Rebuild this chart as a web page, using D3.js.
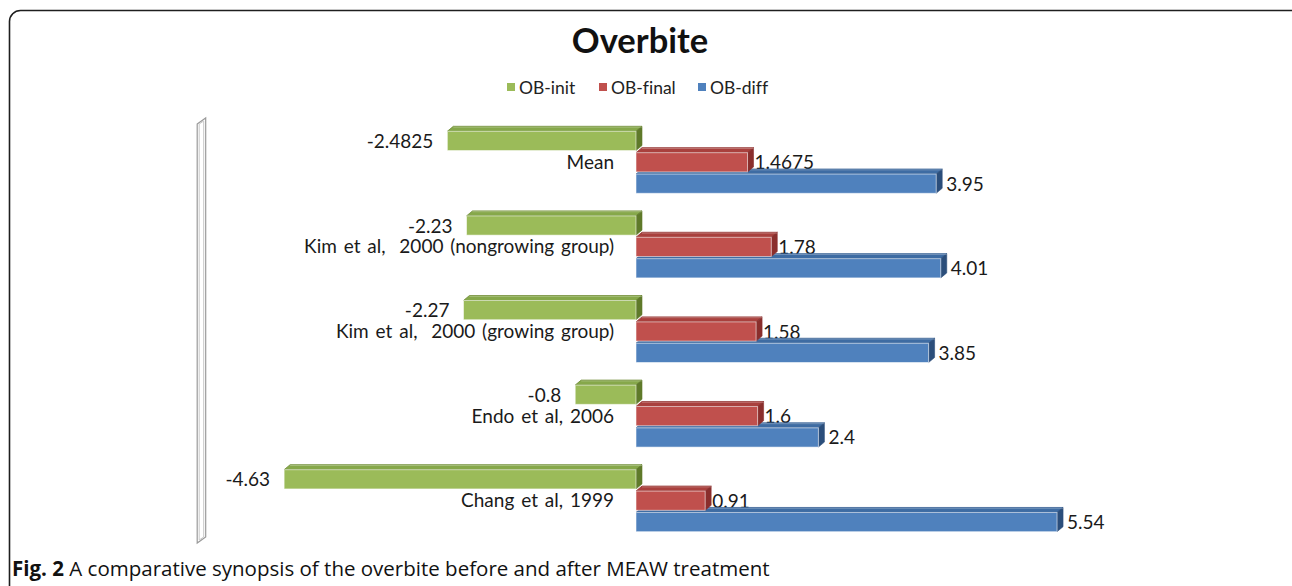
<!DOCTYPE html>
<html>
<head>
<meta charset="utf-8">
<script src="https://cdn.jsdelivr.net/npm/d3@7"></script>
<style>
  html, body { margin: 0; padding: 0; background: #fff; }
  svg { display: block; }
  text { white-space: pre; font-variant-ligatures: none; }
</style>
</head>
<body>
<script>
// ---- data ----
const categories = [
  "Mean",
  "Kim et al,  2000 (nongrowing group)",
  "Kim et al,  2000 (growing group)",
  "Endo et al, 2006",
  "Chang et al, 1999"
];
const seriesNames = ["OB-init", "OB-final", "OB-diff"];
const obInit  = [-2.4825, -2.23, -2.27, -0.8, -4.63];
const obFinal = [1.4675, 1.78, 1.58, 1.6, 0.91];
const obDiff  = [3.95, 4.01, 3.85, 2.4, 5.54];
const valueLabels = {
  "OB-init":  ["-2.4825", "-2.23", "-2.27", "-0.8", "-4.63"],
  "OB-final": ["1.4675", "1.78", "1.58", "1.6", "0.91"],
  "OB-diff":  ["3.95", "4.01", "3.85", "2.4", "5.54"]
};
const titleText = "Overbite";
const captionBold = "Fig. 2";
const captionText = " A comparative synopsis of the overbite before and after MEAW treatment";

// ---- styles ----
const W = 1292, H = 586;
const colors = {
  "OB-init":  {front: "#9BBB59", top: "#86a84a", side: "#5f7a2a", edge: "#6d8a33"},
  "OB-final": {front: "#C0504D", top: "#a9403d", side: "#8a2e2c", edge: "#923331"},
  "OB-diff":  {front: "#4F81BD", top: "#3e6ca3", side: "#2b4e7b", edge: "#335d91"}
};
const seriesValues = {"OB-init": obInit, "OB-final": obFinal, "OB-diff": obDiff};
const FONT = "Lato, 'Open Sans', sans-serif";
const LABEL_SIZE = 19;
const DX = 6, DY = 5;

const svg = d3.select("body").append("svg").attr("width", W).attr("height", H);

// outer rounded frame
svg.append("rect")
  .attr("x", 9.5).attr("y", 10.5).attr("width", 1300).attr("height", 590)
  .attr("rx", 11).attr("fill", "none").attr("stroke", "#1e1e1e").attr("stroke-width", 1.6);

// scales
const x = d3.scaleLinear().domain([-5.8, 6]).range([195.2, 1092]);
const yCat = d3.scaleBand().domain(categories).range([120, 543]);
const ySub = d3.scaleBand().domain(seriesNames).range([-31, 31]).paddingInner(0.1);

// title
svg.append("text")
  .attr("x", 640).attr("y", 53)
  .attr("text-anchor", "middle")
  .attr("font-family", FONT).attr("font-weight", 700).attr("font-size", 34.5)
  .attr("fill", "#111")
  .text(titleText);

// legend
const legendX = [507, 599, 698];
const legend = svg.append("g");
seriesNames.forEach((s, i) => {
  legend.append("rect")
    .attr("x", legendX[i]).attr("y", 83).attr("width", 8).attr("height", 8)
    .attr("fill", colors[s].front);
  legend.append("text")
    .attr("x", legendX[i] + 12).attr("y", 93.5)
    .attr("font-family", FONT).attr("font-size", 17.5).attr("fill", "#222")
    .text(s);
});

// left 3D wall
const wx0 = x(-5.8) + 2, wx1 = wx0 + 8.5;
const wTop = yCat.range()[0] - 2, wBot = yCat.range()[1];
const wall = svg.append("g");
wall.append("polygon")
  .attr("points", [[wx0, wTop + 6], [wx1, wTop], [wx1, wBot - 6], [wx0, wBot]].map(p => p.join(",")).join(" "))
  .attr("fill", "#fff").attr("stroke", "#9a9a9a").attr("stroke-width", 1.2);
wall.append("polygon")
  .attr("points", [[wx0 + 2, wTop + 6], [wx1 - 2, wTop + 3], [wx1 - 2, wBot - 6], [wx0 + 2, wBot - 3]].map(p => p.join(",")).join(" "))
  .attr("fill", "none").attr("stroke", "#c8c8c8").attr("stroke-width", 1);

// category labels
svg.append("g").selectAll("text").data(categories).join("text")
  .attr("x", x(0) - 22)
  .attr("y", d => yCat(d) + yCat.bandwidth() / 2 + 6.5)
  .attr("text-anchor", "end")
  .attr("font-family", FONT).attr("font-size", LABEL_SIZE).attr("fill", "#1a1a1a")
  .attr("word-spacing", 2)
  .text(d => d);

function rows(s) {
  return categories.map((c, i) => ({cat: c, v: seriesValues[s][i], label: valueLabels[s][i], s}));
}

function valueLabel(g, s) {
  g.selectAll("text.v-" + s).data(rows(s)).join("text")
    .attr("class", "v-" + s)
    .attr("x", d => d.v < 0 ? x(d.v) - 14 : x(d.v) + DX + (s === "OB-final" ? 1 : 4))
    .attr("y", d => yCat(d.cat) + yCat.bandwidth() / 2 + ySub(s) + ySub.bandwidth() / 2 + 7)
    .attr("text-anchor", d => d.v < 0 ? "end" : "start")
    .attr("font-family", FONT).attr("font-size", LABEL_SIZE).attr("fill", "#1a1a1a")
    .text(d => d.label);
}

function drawBars(g, s) {
  const c = colors[s];
  const grp = g.append("g");
  const data = rows(s);
  const geo = d => {
    const x0 = x(Math.min(0, d.v)), x1 = x(Math.max(0, d.v));
    const y0 = yCat(d.cat) + yCat.bandwidth() / 2 + ySub(s);
    const y1 = y0 + ySub.bandwidth();
    return {x0, x1, y0, y1};
  };
  // top face
  grp.selectAll("polygon.top").data(data).join("polygon")
    .attr("class", "top")
    .attr("points", d => { const q = geo(d); return [[q.x0, q.y0], [q.x0 + DX, q.y0 - DY], [q.x1 + DX, q.y0 - DY], [q.x1, q.y0]].map(p => p.join(",")).join(" "); })
    .attr("fill", c.top).attr("stroke", c.edge).attr("stroke-width", 0.8).attr("stroke-linejoin", "round");
  // side face
  grp.selectAll("polygon.side").data(data).join("polygon")
    .attr("class", "side")
    .attr("points", d => { const q = geo(d); return [[q.x1, q.y0], [q.x1 + DX, q.y0 - DY], [q.x1 + DX, q.y1 - DY], [q.x1, q.y1]].map(p => p.join(",")).join(" "); })
    .attr("fill", c.side).attr("stroke", c.side).attr("stroke-width", 0.6);
  // front face
  grp.selectAll("rect.front").data(data).join("rect")
    .attr("class", "front")
    .attr("x", d => geo(d).x0).attr("y", d => geo(d).y0)
    .attr("width", d => geo(d).x1 - geo(d).x0).attr("height", d => geo(d).y1 - geo(d).y0)
    .attr("fill", c.front).attr("stroke", "rgba(255,255,255,0.55)").attr("stroke-width", 1);
  // highlight line along top-face edge
  grp.selectAll("line.hl").data(data).join("line")
    .attr("class", "hl")
    .attr("x1", d => geo(d).x0 + DX).attr("x2", d => geo(d).x1 + DX)
    .attr("y1", d => geo(d).y0 - DY + 0.8).attr("y2", d => geo(d).y0 - DY + 0.8)
    .attr("stroke", "rgba(255,255,255,0.35)").attr("stroke-width", 0.8);
}

const plot = svg.append("g");
// red labels sit behind the blue bars' top faces
valueLabel(plot, "OB-final");
drawBars(plot, "OB-diff");
drawBars(plot, "OB-final");
drawBars(plot, "OB-init");
valueLabel(plot, "OB-diff");
valueLabel(plot, "OB-init");

// caption
const cap = svg.append("text")
  .attr("x", 12).attr("y", 576)
  .attr("font-family", "'Open Sans', 'Noto Sans', sans-serif").attr("font-size", 20.5).attr("fill", "#111");
cap.append("tspan").attr("font-weight", 700).text(captionBold);
cap.append("tspan").text(captionText);
</script>
</body>
</html>
